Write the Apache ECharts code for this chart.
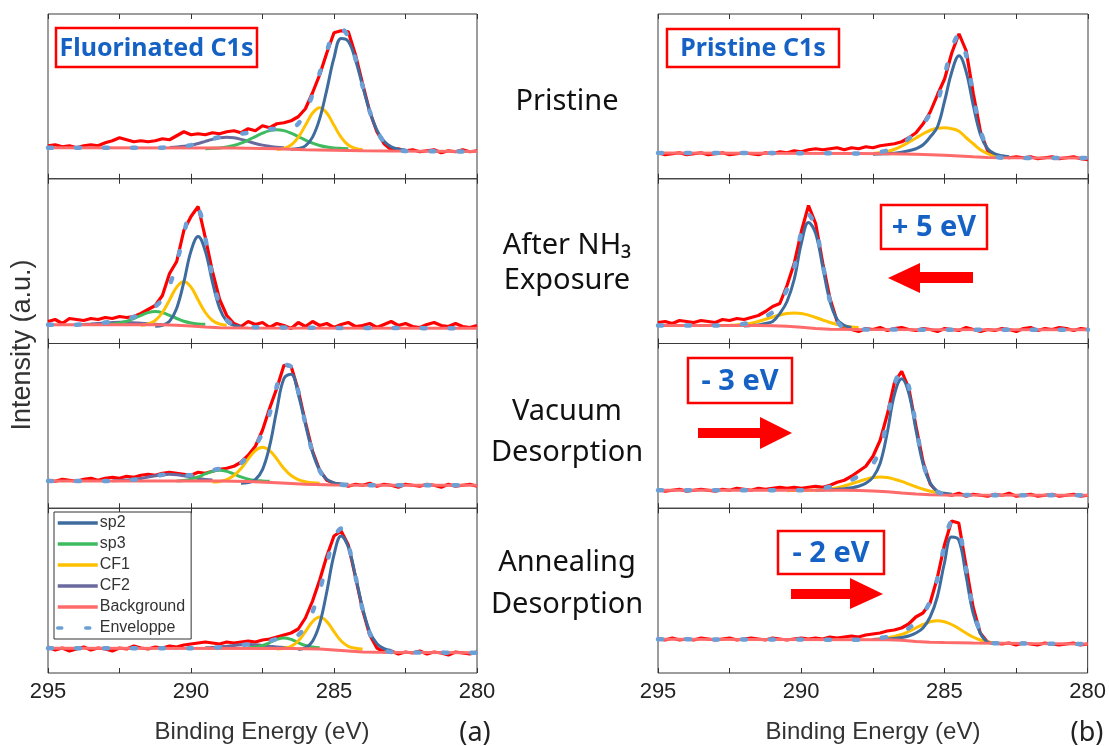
<!DOCTYPE html>
<html>
<head>
<meta charset="utf-8">
<script src="https://cdn.jsdelivr.net/npm/echarts@6/dist/echarts.min.js"></script>
<style>
  html, body { margin: 0; padding: 0; background: #fff; }
  #chart { width: 1109px; height: 746px; }
</style>
</head>
<body>
<div id="chart"></div>
<script>
// binding energy grid (eV), 0.25 eV step
var energy = [
  295, 294.75, 294.5, 294.25, 294, 293.75, 293.5, 293.25, 293, 292.75, 292.5, 292.25, 292, 291.75, 291.5, 291.25, 291,
  290.75, 290.5, 290.25, 290, 289.75, 289.5, 289.25, 289, 288.75, 288.5, 288.25, 288, 287.75, 287.5, 287.25, 287,
  286.75, 286.5, 286.25, 286, 285.75, 285.5, 285.25, 285, 284.75, 284.5, 284.25, 284, 283.75, 283.5, 283.25, 283,
  282.75, 282.5, 282.25, 282, 281.75, 281.5, 281.25, 281, 280.75, 280.5, 280.25, 280
];
var tickLabels = ['295', '290', '285', '280'];
var legendNames = ['sp2', 'sp3', 'CF1', 'CF2', 'Background', 'Enveloppe'];
var stageLabels = [['Pristine'], ['After NH\u2083', 'Exposure'], ['Vacuum', 'Desorption'], ['Annealing', 'Desorption']];
var shiftLabels = ['+ 5 eV', '- 3 eV', '- 2 eV'];

// ---- (a) fluorinated C1s ----
// pristine
var raw_a1 = [
  33, 34, 32, 33, 31, 33, 34, 33, 36, 38, 41, 39, 37, 38, 37, 38, 40,
  39, 43, 47, 44, 45, 44, 46, 45, 47, 48, 46, 50, 48, 53, 51, 55,
  56, 58, 62, 70, 86, 104, 126, 146, 148, 147, 124, 95, 67, 47, 35, 29,
  30, 28, 29, 27, 28, 29, 26, 28, 27, 29, 27, 28
];
var env_a1 = [
  31, 31, 31, 31, 31, 31, 31, 31, 31, 31, 31, 31, 31, 31, 31, 31, 31.1,
  31.3, 31.7, 32.4, 33.6, 35.3, 37.5, 39.8, 41.7, 43.2, 44.2, 45, 45.9, 47.1, 48.6, 49.7, 49.8,
  49.6, 50.1, 55, 66.4, 84.3, 105.7, 127.8, 146.1, 150, 142.1, 120.1, 92.6, 67.4, 48, 36.7, 31.1,
  28.7, 27.8, 27.6, 27.5, 27.5, 27.4, 27.4, 27.4, 27.3, 27.3, 27.3, 27.3
];
var bg_a1 = [[295, 31], [288.5, 30.8], [287, 30], [286, 29], [285, 28.5], [284, 28], [283, 27.7], [280, 27.3]];
var sp2_a1 = { from: 286.5, y: [29.5, 30.2, 32.8, 41.6, 60.1, 89.2, 120.9, 140.2, 137.4, 119, 92.7, 67.4, 48.6, 37.4, 31.9, 29.6, 28.8] };
var sp3_a1 = { from: 289.5, y: [30.1, 30.4, 30.8, 31.7, 33.3, 35.6, 38.7, 42.2, 45.6, 48.1, 49, 48.1, 45.6, 42.2, 38.7, 35.6, 33.3, 31.7, 30.8, 30.4, 30.1] };
var cf1_a1 = { from: 287, y: [29.3, 30.4, 33.8, 41.4, 53.4, 65.7, 71, 65.7, 53.4, 41.4, 33.8, 30.4, 29.3] };
var cf2_a1 = { from: 290.75, y: [31.3, 31.7, 32.4, 33.6, 35.3, 37.4, 39.4, 40.9, 41.5, 40.9, 39.4, 37.4, 35.3, 33.6, 32.4, 31.5, 31.1] };

// after NH3 exposure
var raw_a2 = [
  22, 24, 20, 25, 24, 23, 25, 24, 26, 25, 27, 26, 27, 30, 34, 38, 48,
  70, 82, 113, 127, 137, 106, 72, 44, 28, 20, 17, 22, 19, 21, 16, 20,
  18, 15, 21, 17, 22, 18, 20, 16, 19, 21, 17, 18, 20, 16, 19, 22,
  18, 20, 17, 16, 19, 21, 18, 17, 20, 17, 16, 18
];
var env_a2 = [
  18.7, 18.7, 18.7, 18.7, 18.8, 19.1, 19.5, 20, 21, 21.9, 23.1, 24.6, 26.5, 29.5, 32.9, 37, 44.3,
  58.1, 80.4, 109.1, 132.6, 133.3, 105.2, 67, 38, 23.5, 19, 17, 16.5, 16.3, 16.2, 16.1, 16,
  16, 15.9, 15.9, 15.8, 15.8, 15.7, 15.7, 15.6, 15.6, 15.5, 15.5, 15.5, 15.4, 15.4, 15.4, 15.4,
  15.4, 15.4, 15.4, 15.4, 15.3, 15.3, 15.3, 15.3, 15.3, 15.3, 15.3, 15.3
];
var bg_a2 = [[295, 18.7], [291, 18.7], [290.5, 18.3], [290, 17.5], [289.5, 16.5], [289, 15.8], [288, 15.6], [280, 15.3]];
var sp2_a2 = { from: 291.25, y: [17.2, 18.1, 22.3, 35.3, 61.4, 92.4, 107, 92.4, 61.4, 35.3, 22.3, 18.1, 17.2] };
var sp3_a2 = { from: 293, y: [19.2, 19.6, 20.5, 22.2, 25, 28.2, 30.9, 32, 30.9, 28.2, 25, 22.2, 20.5, 19.6, 19.2] };
var cf1_a2 = { from: 291.75, y: [18.3, 19.5, 23, 31, 43.6, 56.4, 62, 56.4, 43.6, 31, 23, 19.5, 18.3] };
var cf2_a2 = { from: 294, y: [18.8, 19.1, 19.5, 20, 20.5, 21, 21.3, 21.1, 20.8, 20.3, 19.8, 19.3, 19] };

// vacuum desorption
var raw_a3 = [
  28, 27, 29, 28, 27, 29, 30, 28, 30, 31, 30, 32, 31, 33, 34, 33, 35,
  36, 35, 34, 33, 36, 35, 37, 39, 40, 42, 46, 53, 62, 78, 100, 120,
  143, 142, 118, 86, 57, 38, 28, 25, 24, 22, 24, 23, 25, 22, 24, 23,
  21, 24, 23, 22, 24, 23, 21, 24, 22, 23, 24, 22
];
var env_a3 = [
  27.3, 27.3, 27.3, 27.3, 27.3, 27.3, 27.3, 27.3, 27.3, 27.4, 27.6, 28, 28.6, 29.6, 31, 32.3, 33.4,
  34.1, 34.2, 33.1, 33.1, 33.9, 35.9, 38.1, 39.4, 39.8, 41.1, 45.1, 52.8, 62.6, 75.2, 94.8, 122.1,
  143.6, 141.3, 117, 84.6, 55.8, 37.6, 28.4, 24.6, 23.5, 23.2, 23.2, 23.1, 23.1, 23.1, 23.1, 23.1,
  23, 23, 23, 23, 23, 23, 23, 23, 23, 23, 23, 23
];
var bg_a3 = [[295, 27.3], [289, 27.3], [288, 26.8], [287, 25.5], [286, 24], [285, 23.3], [284, 23.1], [280, 23]];
var sp2_a3 = { from: 288.25, y: [25.1, 25.7, 28.7, 38.7, 62.3, 98.4, 129.8, 134.1, 114, 84, 56, 38, 29, 25.3, 24.3, 24] };
var sp3_a3 = { from: 290.5, y: [27.3, 27.8, 29.1, 31.3, 34.3, 36.9, 38, 36.9, 34.3, 31.3, 29.1, 27.8, 27.3, 27] };
var cf1_a3 = { from: 289.25, y: [26.2, 26.8, 28.7, 32.7, 39.8, 49.2, 57.6, 61, 57.6, 49.2, 39.8, 32.7, 28.7, 26.6, 25.4, 25] };
var cf2_a3 = { from: 292.75, y: [27.6, 27.8, 28.2, 28.8, 29.8, 31.2, 32.5, 33.6, 34, 33.6, 32.5, 31.2, 29.8, 28.8, 28.2] };

// annealing desorption
var raw_a4 = [
  26, 23, 25, 22, 24, 26, 23, 25, 24, 22, 25, 24, 27, 25, 24, 26, 25,
  27, 26, 28, 29, 30, 31, 30, 29, 31, 30, 31, 32, 31, 33, 34, 36,
  38, 40, 44, 55, 72, 93, 117, 137, 142, 128, 96, 63, 38, 25, 21, 22,
  19, 21, 20, 22, 19, 21, 20, 18, 21, 20, 19, 21
];
var env_a4 = [
  24.7, 24.7, 24.7, 24.7, 24.7, 24.7, 24.7, 24.7, 24.7, 24.7, 24.7, 24.7, 24.7, 24.7, 24.7, 24.7, 24.7,
  24.7, 24.7, 24.7, 24.7, 24.7, 24.9, 25.2, 25.7, 26.5, 27.3, 28, 28.4, 28.7, 29.7, 31.8, 34.2,
  35.7, 35.9, 38.1, 46.2, 61.2, 82.5, 109.4, 135.5, 144.5, 128.1, 96.7, 63.6, 39.6, 27.6, 22.5, 21,
  20.5, 20.5, 20.5, 20.4, 20.4, 20.4, 20.4, 20.3, 20.3, 20.3, 20.3, 20.3
];
var bg_a4 = [[295, 24.7], [286.5, 24.4], [285.5, 24], [285, 23], [284.5, 22], [284, 21], [283.5, 20.7], [280, 20.3]];
var sp2_a4 = { from: 286.25, y: [23.4, 25.2, 31.8, 49.3, 81.5, 118.2, 137, 125.9, 97, 65, 41.3, 29.4, 24.4, 22.5] };
var sp3_a4 = { from: 288, y: [25.2, 25.9, 27.5, 30.4, 33.6, 35, 33.6, 30.4, 27.5, 25.9, 25.2] };
var cf1_a4 = { from: 287, y: [24.1, 24.7, 26.7, 32, 41.3, 51.4, 56, 51.4, 41.3, 32, 26.7, 24.7, 24.1] };
var cf2_a4 = { from: 289.5, y: [25.2, 25.5, 26, 26.8, 27.6, 28.2, 28.5, 28.2, 27.6, 26.8, 26, 25.5, 25.2] };

// ---- (b) pristine C1s ----
var raw_b1 = [
  26, 24, 25, 26, 24, 25, 26, 24, 25, 26, 24, 25, 26, 25, 24, 26, 25,
  27, 26, 28, 27, 29, 30, 29, 30, 31, 29, 31, 30, 32, 31, 33, 34,
  35, 37, 41, 46, 55, 67, 84, 100, 126, 145, 128, 85, 47, 28, 23, 22,
  21, 22, 21, 22, 20, 21, 22, 20, 21, 22, 20, 19
];
var env_b1 = [
  25.7, 25.7, 25.7, 25.7, 25.7, 25.7, 25.7, 25.7, 25.7, 25.7, 25.7, 25.7, 25.7, 25.7, 25.7, 25.7, 25.7,
  25.6, 25.6, 25.5, 25.5, 25.5, 25.4, 25.4, 25.4, 25.3, 25.3, 25.3, 25.3, 25.6, 26, 26.8, 28.3,
  30.9, 34.9, 40.2, 46.3, 54.3, 65.5, 77.3, 103.5, 131, 144.2, 123.3, 83.5, 48.6, 30.3, 22.6, 21,
  20.9, 20.9, 20.8, 20.8, 20.8, 20.8, 20.7, 20.7, 20.7, 20.7, 20.7, 20.7
];
var bg_b1 = [[295, 25.7], [288, 25.3], [287, 25], [286, 24.5], [285, 23.5], [284, 22], [283.5, 21.3], [283, 21], [280, 20.7]];
var sp2_b1 = { from: 287.5, y: [24.5, 24.8, 25, 25.5, 26.5, 28, 30, 34, 42, 52, 78, 107, 123, 107, 73, 44, 30, 25, 23, 22] };
var cf1_b1 = { from: 287.5, y: [25.3, 26, 27.3, 29.5, 32.6, 36.6, 40.8, 45, 48.5, 50.5, 51, 50, 47.5, 41, 35, 29, 25, 22.5, 21.5] };

var raw_b2 = [
  21, 22, 20, 23, 22, 21, 23, 22, 21, 24, 23, 25, 24, 26, 28, 32, 37,
  40, 58, 80, 112, 138, 120, 80, 45, 22, 16, 14, 12, 15, 14, 16, 13,
  15, 16, 14, 13, 15, 14, 12, 15, 14, 13, 16, 14, 12, 14, 13, 15,
  14, 12, 15, 16, 13, 15, 14, 16, 15, 13, 15, 14
];
var env_b2 = [
  18, 18, 18, 18, 18, 18, 18, 18, 18, 18, 18.3, 18.6, 19.7, 21.3, 23.5, 27.1, 31.3,
  40.9, 54.2, 75.3, 111.3, 128.9, 116, 79, 42.3, 22.2, 15.1, 14.2, 14, 14, 13.9, 13.9, 13.9,
  13.9, 13.9, 13.8, 13.8, 13.8, 13.8, 13.8, 13.8, 13.8, 13.8, 13.8, 13.8, 13.8, 13.8, 13.8, 13.8,
  13.7, 13.7, 13.7, 13.7, 13.7, 13.7, 13.7, 13.7, 13.7, 13.7, 13.7, 13.7
];
var bg_b2 = [[295, 18], [291.5, 18], [291, 17.8], [290.5, 17.2], [290, 16.3], [289.5, 15], [289, 14.3], [288, 14], [280, 13.7]];
var sp2_b2 = { from: 292, y: [17.5, 18, 18.5, 20, 22, 30, 42, 64, 100, 121, 110, 76, 42, 24, 18, 16] };
var cf1_b2 = { from: 292.5, y: [18.3, 18.6, 19.2, 20.3, 22, 24.2, 26.5, 28.5, 30, 30.5, 30, 28.4, 26, 23.5, 21, 19, 17.5, 16.5, 16] };

var raw_b3 = [
  19, 17, 18, 19, 17, 18, 19, 18, 17, 19, 18, 20, 19, 18, 20, 19, 20,
  21, 20, 21, 20, 21, 22, 21, 23, 26, 28, 32, 37, 42, 52, 68, 94,
  126, 137, 120, 82, 46, 24, 16, 14, 13, 15, 12, 14, 13, 12, 14, 13,
  15, 12, 13, 14, 12, 13, 14, 12, 13, 14, 12, 13
];
var env_b3 = [
  18, 18, 18, 18, 18, 18, 18, 18, 18, 18, 18, 18, 18, 18, 18, 18, 18,
  18, 18, 18, 18, 18.8, 19.5, 20.2, 21.3, 23, 25.3, 28.4, 32.1, 37.1, 44.5, 58.7, 88.7,
  124.4, 137.1, 121.4, 82.2, 45.3, 24.5, 16.3, 14.2, 13.3, 13.2, 13.2, 13.2, 13.1, 13.1, 13.1, 13.1,
  13, 13, 13, 13, 13, 13, 13, 13, 13, 13, 13, 13
];
var bg_b3 = [[295, 18], [288.5, 18], [288, 17.8], [287.5, 17.3], [287, 16.5], [286.5, 15.3], [286, 14.2], [285.5, 13.5], [285, 13.2], [280, 13]];
var sp2_b3 = { from: 289.5, y: [18, 18.3, 18.5, 19, 19.5, 20.5, 22, 25, 31, 45, 76, 114, 129.5, 115, 78, 44, 25, 17, 15, 14] };
var cf1_b3 = { from: 290.5, y: [17.6, 17.7, 17.8, 17.9, 18, 18.5, 19.3, 20.5, 22.3, 24.5, 26.8, 29, 30.7, 31.3, 30.7, 29, 26.8, 24.2, 21.5, 19, 17, 15.5, 14.5] };

var raw_b4 = [
  34, 33, 35, 33, 34, 33, 35, 34, 33, 34, 35, 33, 34, 35, 34, 33, 35,
  34, 33, 34, 35, 34, 35, 34, 36, 35, 36, 37, 36, 38, 39, 40, 42,
  43, 45, 49, 56, 60, 70, 95, 128, 152, 150, 108, 66, 40, 31, 30, 29,
  30, 28, 30, 29, 28, 30, 29, 28, 29, 30, 28, 29
];
var env_b4 = [
  33.7, 33.7, 33.7, 33.7, 33.7, 33.6, 33.6, 33.6, 33.6, 33.6, 33.5, 33.5, 33.5, 33.5, 33.5, 33.4, 33.4,
  33.4, 33.4, 33.4, 33.4, 33.4, 33.4, 33.3, 33.3, 33.3, 33.3, 33.3, 33.3, 33.3, 34.3, 35, 36.1,
  38, 40.8, 44.7, 50.5, 58.6, 72, 93.9, 127.7, 150.9, 144.8, 105.1, 64, 41.4, 31.8, 29.7, 29.6,
  29.5, 29.5, 29.4, 29.4, 29.3, 29.3, 29.2, 29.2, 29.1, 29.1, 29, 29
];
var bg_b4 = [[295, 33.7], [287, 33.2], [286.5, 32.8], [286, 31.5], [285.5, 30.8], [285, 30.5], [284, 30], [282, 29.4], [280, 29]];
var sp2_b4 = { from: 287.5, y: [33.5, 33.7, 34, 34.5, 35.5, 37, 40, 45, 56, 76, 110, 136, 133, 98, 60, 40, 31, 29.5] };
var cf1_b4 = { from: 287.5, y: [33.5, 34, 35, 36.5, 38.5, 41.5, 45, 48.5, 51.2, 52.3, 51.2, 48.5, 44.5, 40, 36, 33, 31, 30] };

// ---- layout / style ----
var PANEL_H = 164.75;
var colLeft = [48, 658];
var colWidth = [429, 430];
var RAW_COLOR = '#ff0000';
var BG_COLOR = '#ff6b6b';
var ENV_COLOR = '#6c9fd6';
var partColor = { sp2: '#3e6c9f', sp3: '#3dbb5e', CF1: '#ffc000', CF2: '#6a6a9f' };

var panels = [
  { raw: raw_a1, env: env_a1, bg: bg_a1, parts: [['CF2', cf2_a1], ['sp3', sp3_a1], ['CF1', cf1_a1], ['sp2', sp2_a1]] },
  { raw: raw_a2, env: env_a2, bg: bg_a2, parts: [['CF2', cf2_a2], ['sp3', sp3_a2], ['CF1', cf1_a2], ['sp2', sp2_a2]] },
  { raw: raw_a3, env: env_a3, bg: bg_a3, parts: [['CF2', cf2_a3], ['sp3', sp3_a3], ['CF1', cf1_a3], ['sp2', sp2_a3]] },
  { raw: raw_a4, env: env_a4, bg: bg_a4, parts: [['CF2', cf2_a4], ['sp3', sp3_a4], ['CF1', cf1_a4], ['sp2', sp2_a4]] },
  { raw: raw_b1, env: env_b1, bg: bg_b1, parts: [['CF1', cf1_b1], ['sp2', sp2_b1]] },
  { raw: raw_b2, env: env_b2, bg: bg_b2, parts: [['CF1', cf1_b2], ['sp2', sp2_b2]] },
  { raw: raw_b3, env: env_b3, bg: bg_b3, parts: [['CF1', cf1_b3], ['sp2', sp2_b3]] },
  { raw: raw_b4, env: env_b4, bg: bg_b4, parts: [['CF1', cf1_b4], ['sp2', sp2_b4]] }
];

function onGrid(ys) {
  return ys.map(function (y, i) { return [energy[i], y]; });
}
function fromStart(c) {
  var i0 = energy.indexOf(c.from);
  return c.y.map(function (y, i) { return [energy[i0 + i], y]; });
}

function axisX(g, pos, labels) {
  return {
    type: 'value', gridIndex: g, position: pos,
    min: 280, max: 295, interval: 2.5, inverse: true,
    axisLine: { show: false },
    splitLine: { show: false },
    axisTick: { show: true, inside: true, length: 5, lineStyle: { color: '#333', width: 1 } },
    axisLabel: {
      show: labels, margin: 8, fontSize: 22, color: '#222', fontFamily: 'Liberation Sans',
      formatter: function (v) { return tickLabels.indexOf(String(v)) >= 0 ? String(v) : ''; }
    }
  };
}

function line(name, data, g, color, width, z, extra) {
  var s = {
    type: 'line', name: name, data: data,
    xAxisIndex: g * 2, yAxisIndex: g,
    symbol: 'none', showSymbol: false, z: z,
    silent: true, animation: false,
    lineStyle: { color: color, width: width },
    itemStyle: { color: color }
  };
  if (extra) Object.keys(extra).forEach(function (k) { s[k] = extra[k]; });
  return s;
}

var grids = [], xAxes = [], yAxes = [], series = [];
panels.forEach(function (p, i) {
  var col = i < 4 ? 0 : 1, row = i % 4;
  grids.push({
    left: colLeft[col], top: 14 + row * PANEL_H, width: colWidth[col], height: PANEL_H,
    show: true, borderColor: '#3a3a3a', borderWidth: 1, backgroundColor: 'transparent'
  });
  xAxes.push(axisX(i, 'bottom', row === 3));
  xAxes.push(axisX(i, 'top', false));
  yAxes.push({ type: 'value', gridIndex: i, min: 0, max: PANEL_H, show: false });

  series.push(line('raw', onGrid(p.raw), i, RAW_COLOR, 3.2, 2));
  p.parts.forEach(function (pt) {
    series.push(line(pt[0], fromStart(pt[1]), i, partColor[pt[0]], 3, 3, { smooth: 0.4 }));
  });
  series.push(line('Background', p.bg, i, BG_COLOR, 3, 4));
  series.push(line('Enveloppe', onGrid(p.env), i, ENV_COLOR, 4, 5, {
    smooth: 0.3,
    lineStyle: { color: ENV_COLOR, width: 4.5, type: [4, 24], cap: 'round' }
  }));
});

// annotations
var graphics = [];
function textBox(x, y, w, h, text, size) {
  graphics.push({ type: 'rect', silent: true, z: 100, shape: { x: x, y: y, width: w, height: h },
    style: { fill: '#fff', stroke: '#ff0000', lineWidth: 2.5 } });
  graphics.push({ type: 'text', silent: true, z: 101, x: x + w / 2, y: y + h / 2 + 1,
    style: { text: text, fill: '#1662c4', font: 'bold ' + size + 'px "Noto Sans"', align: 'center', verticalAlign: 'middle' } });
}
function arrow(points) {
  graphics.push({ type: 'polygon', silent: true, z: 100, shape: { points: points }, style: { fill: '#ff0000' } });
}
function label(x, y, text, font, color, rot) {
  graphics.push({ type: 'text', silent: true, z: 100, x: x, y: y, rotation: rot || 0,
    style: { text: text, fill: color || '#111', font: font, align: 'center', verticalAlign: 'middle' } });
}

textBox(56, 28, 201, 39, 'Fluorinated C1s', 25);
textBox(667, 29, 172, 38, 'Pristine C1s', 25);
textBox(881, 205, 106, 44, shiftLabels[0], 29);
textBox(688, 358, 104, 45, shiftLabels[1], 29);
textBox(778, 531, 106, 43, shiftLabels[2], 29);

arrow([[888, 278], [920, 263], [920, 272], [973, 272], [973, 283], [920, 283], [920, 293]]);
arrow([[698, 428], [760, 428], [760, 417], [792, 433], [760, 449], [760, 438], [698, 438]]);
arrow([[791, 589], [850, 589], [850, 578], [883, 594], [850, 609], [850, 599], [791, 599]]);

var stageFont = '29px "Noto Sans"';
var stageY = [[102], [246, 281], [412, 453], [563, 605]];
stageLabels.forEach(function (lines, i) {
  lines.forEach(function (t, j) { label(567, stageY[i][j], t, stageFont); });
});

label(262, 732, 'Binding Energy (eV)', '24px "Liberation Sans"', '#333');
label(873, 732, 'Binding Energy (eV)', '24px "Liberation Sans"', '#333');
label(475, 733, '(a)', '27px "Noto Sans"', '#222');
label(1087, 733, '(b)', '27px "Noto Sans"', '#222');
label(23, 345, 'Intensity (a.u.)', '27px "Liberation Sans"', '#333', Math.PI / 2);

var chart = echarts.init(document.getElementById('chart'), null, { renderer: 'canvas' });
chart.setOption({
  animation: false,
  backgroundColor: '#fff',
  grid: grids,
  xAxis: xAxes,
  yAxis: yAxes,
  legend: {
    data: legendNames,
    orient: 'vertical',
    left: 54, top: 512,
    padding: [3, 6, 3, 2],
    itemGap: 5,
    itemWidth: 40,
    itemHeight: 15,
    borderColor: '#333',
    borderWidth: 1,
    backgroundColor: '#fff',
    selectedMode: false,
    itemStyle: { color: 'rgba(0,0,0,0)', borderColor: 'rgba(0,0,0,0)', borderWidth: 0 },
    lineStyle: { width: 3.5 },
    textStyle: { fontFamily: 'Liberation Sans', fontSize: 16, color: '#333', padding: [0, 0, 0, -3] },
    z: 50
  },
  series: series,
  graphic: { elements: graphics }
});
</script>
</body>
</html>
